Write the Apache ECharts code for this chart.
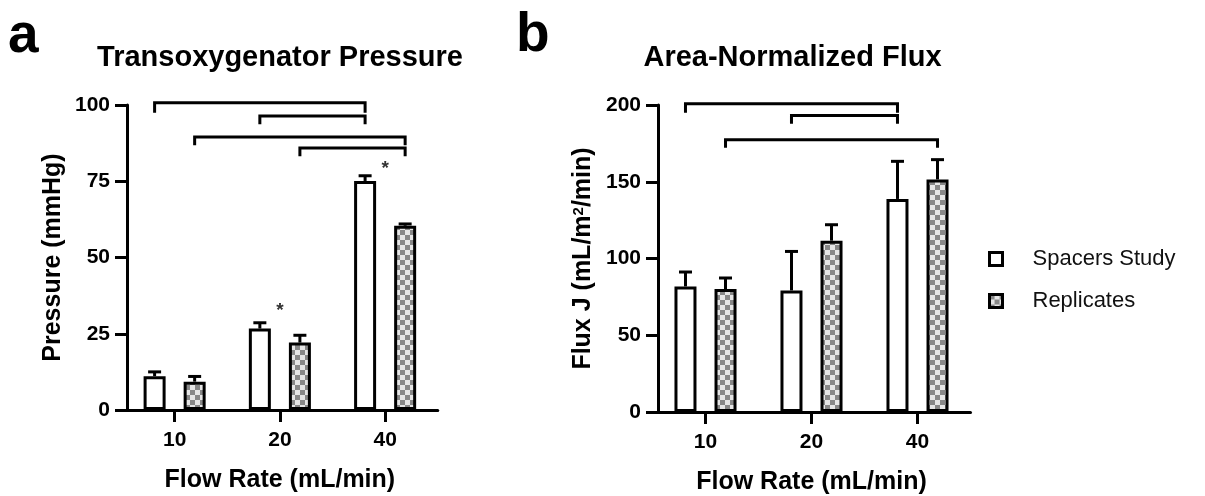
<!DOCTYPE html>
<html>
<head>
<meta charset="utf-8">
<script src="https://cdn.jsdelivr.net/npm/echarts@6/dist/echarts.min.js"></script>
<style>
  html, body { margin: 0; padding: 0; background: #fff; }
  #chart { width: 1205px; height: 496px; }
</style>
</head>
<body>
<div id="chart"></div>
<script>
// ---- data ----
const flowRates = ['10', '20', '40'];
const seriesNames = ['Spacers Study', 'Replicates'];

// (a) transoxygenator pressure, mmHg: mean and upper error
const pressureSpacers = [11.1, 26.7, 75.1];
const pressureSpacersErr = [1.4, 1.9, 1.7];
const pressureReplicates = [9.3, 22.1, 60.4];
const pressureReplicatesErr = [1.7, 2.4, 0.6];

// (b) area-normalized flux, mL/m^2/min: mean and upper error
const fluxSpacers = [81.8, 79.2, 138.8];
const fluxSpacersErr = [9.4, 25.4, 24.5];
const fluxReplicates = [80.1, 111.6, 151.5];
const fluxReplicatesErr = [7.2, 10.4, 12.9];

// significance brackets: [fromFlow, fromSeries, toFlow, toSeries, barTop, legEnd]
const pressureBrackets = [
  [0, 0, 2, 0, 100.7, 97.5],
  [1, 0, 2, 0, 96.4, 93.7],
  [0, 1, 2, 1, 89.5, 86.8],
  [1, 1, 2, 1, 85.9, 83.2]
];
const fluxBrackets = [
  [0, 0, 2, 0, 200.8, 195.0],
  [1, 0, 2, 0, 193.2, 187.8],
  [0, 1, 2, 1, 177.4, 172.2]
];
// asterisks: [flowIndex, height]
const pressureStars = [[1, 32.4], [2, 79.0]];

const pressureScale = { min: 0, max: 100, interval: 25 };
const fluxScale = { min: 0, max: 200, interval: 50 };

// ---- styling helpers ----
const FONT = 'Liberation Sans, Arial, Helvetica, sans-serif';
const BAR_W = 22;
const BAR_GAP = 0.82;
const HALF_SEP = (BAR_W + BAR_W * BAR_GAP) / 2;   // category centre -> bar centre
const barOffset = s => (s === 0 ? -HALF_SEP : HALF_SEP);

// checkerboard fill for the Replicates bars
const tile = document.createElement('canvas');
tile.width = tile.height = 10;
const tctx = tile.getContext('2d');
tctx.fillStyle = '#e6e6e6';
tctx.fillRect(0, 0, 10, 10);
tctx.fillStyle = '#888888';
tctx.fillRect(0, 0, 5, 5);
tctx.fillRect(5, 5, 5, 5);
const checker = { image: tile, repeat: 'repeat' };
const fills = ['#ffffff', checker];

function barSeries(g, s, values) {
  return {
    type: 'bar', name: seriesNames[s], xAxisIndex: g, yAxisIndex: g,
    data: values, barWidth: BAR_W, barGap: Math.round(BAR_GAP * 100) + '%',
    itemStyle: { color: fills[s], borderColor: '#000', borderWidth: 3 },
    silent: true, z: 2
  };
}

function errorSeries(g, s, values, errs) {
  return {
    type: 'custom', xAxisIndex: g, yAxisIndex: g, silent: true, z: 3,
    data: values.map((v, i) => [i, v, v + errs[i]]),
    renderItem(params, api) {
      const base = api.coord([api.value(0), api.value(1)]);
      const top = api.coord([api.value(0), api.value(2)]);
      const x = base[0] + barOffset(s);
      const st = { stroke: '#000', lineWidth: 3 };
      return {
        type: 'group', children: [
          { type: 'line', shape: { x1: x, y1: base[1], x2: x, y2: top[1] }, style: st },
          { type: 'line', shape: { x1: x - 6.5, y1: top[1], x2: x + 6.5, y2: top[1] }, style: st }
        ]
      };
    }
  };
}

function bracketSeries(g, brackets) {
  return {
    type: 'custom', xAxisIndex: g, yAxisIndex: g, silent: true, z: 3, clip: false,
    data: brackets,
    renderItem(params, api) {
      const a = api.coord([api.value(0), api.value(4)]);
      const b = api.coord([api.value(2), api.value(4)]);
      const leg = api.coord([api.value(0), api.value(5)]);
      const x1 = a[0] + barOffset(api.value(1));
      const x2 = b[0] + barOffset(api.value(3));
      return {
        type: 'polyline',
        shape: { points: [[x1, leg[1]], [x1, a[1]], [x2, a[1]], [x2, leg[1]]] },
        style: { stroke: '#000', lineWidth: 3, fill: null, lineJoin: 'miter' }
      };
    }
  };
}

function starSeries(g, stars) {
  return {
    type: 'custom', xAxisIndex: g, yAxisIndex: g, silent: true, z: 3, clip: false,
    data: stars,
    renderItem(params, api) {
      const p = api.coord([api.value(0), api.value(1)]);
      return {
        type: 'text', x: p[0], y: p[1],
        style: { text: '*', fill: '#333', font: 'bold 19px ' + FONT, align: 'center', verticalAlign: 'middle' }
      };
    }
  };
}

function xAxis(g) {
  return {
    type: 'category', gridIndex: g, data: flowRates,
    axisLine: { show: true, lineStyle: { color: '#000', width: 3 } },
    axisTick: { show: true, alignWithLabel: true, length: 12, lineStyle: { color: '#000', width: 3 } },
    axisLabel: { margin: 20, fontSize: 21, fontWeight: 'bold', color: '#000', fontFamily: FONT },
    splitLine: { show: false },
    name: 'Flow Rate (mL/min)', nameLocation: 'middle', nameGap: 58,
    nameTextStyle: { fontSize: 25, fontWeight: 'bold', color: '#000', fontFamily: FONT }
  };
}

function yAxis(g, scale, name, offset, gap, rich) {
  return {
    type: 'value', gridIndex: g, min: scale.min, max: scale.max, interval: scale.interval,
    offset: offset,
    axisLine: { show: true, lineStyle: { color: '#000', width: 3 } },
    axisTick: { show: true, length: 12, lineStyle: { color: '#000', width: 3 } },
    axisLabel: { margin: 17, fontSize: 21, fontWeight: 'bold', color: '#000', fontFamily: FONT },
    splitLine: { show: false },
    name: name, nameLocation: 'middle', nameGap: gap,
    nameTextStyle: Object.assign({ fontSize: 25, fontWeight: 'bold', color: '#000', fontFamily: FONT }, rich ? { rich } : {})
  };
}

const chart = echarts.init(document.getElementById('chart'), null, { renderer: 'canvas' });

chart.setOption({
  animation: false,
  backgroundColor: '#fff',
  grid: [
    { left: 122, top: 105, width: 315.75, height: 305, outerBoundsMode: 'none' },
    { left: 652.5, top: 105, width: 318, height: 307, outerBoundsMode: 'none' }
  ],
  xAxis: [xAxis(0), xAxis(1)],
  yAxis: [
    yAxis(0, pressureScale, 'Pressure (mmHg)', -5, 61),
    yAxis(1, fluxScale, 'Flux J (mL/m{sup|2}/min)', -5.5, 62, {
      sup: { fontSize: 15, fontWeight: 'bold', color: '#000', fontFamily: FONT, verticalAlign: 'top' }
    })
  ],
  legend: {
    orient: 'vertical', left: 988, top: 248, padding: 0,
    itemWidth: 13, itemHeight: 13, itemGap: 20, icon: 'rect',
    data: seriesNames, selectedMode: false,
    itemStyle: { borderColor: '#000', borderWidth: 3 },
    textStyle: { fontSize: 22, color: '#111', fontFamily: FONT, lineHeight: 22, padding: [0, 0, 0, 25] }
  },
  graphic: [
    { type: 'text', x: 8, y: 37, style: { text: 'a', font: 'bold 55px ' + FONT, fill: '#000', align: 'left', verticalAlign: 'middle' } },
    { type: 'text', x: 516, y: 36, style: { text: 'b', font: 'bold 55px ' + FONT, fill: '#000', align: 'left', verticalAlign: 'middle' } },
    { type: 'text', x: 280, y: 58, style: { text: 'Transoxygenator Pressure', font: 'bold 29px ' + FONT, fill: '#000', align: 'center', verticalAlign: 'middle' } },
    { type: 'text', x: 792.5, y: 58, style: { text: 'Area-Normalized Flux', font: 'bold 29px ' + FONT, fill: '#000', align: 'center', verticalAlign: 'middle' } }
  ],
  series: [
    barSeries(0, 0, pressureSpacers),
    barSeries(0, 1, pressureReplicates),
    errorSeries(0, 0, pressureSpacers, pressureSpacersErr),
    errorSeries(0, 1, pressureReplicates, pressureReplicatesErr),
    bracketSeries(0, pressureBrackets),
    starSeries(0, pressureStars),
    barSeries(1, 0, fluxSpacers),
    barSeries(1, 1, fluxReplicates),
    errorSeries(1, 0, fluxSpacers, fluxSpacersErr),
    errorSeries(1, 1, fluxReplicates, fluxReplicatesErr),
    bracketSeries(1, fluxBrackets)
  ]
});
</script>
</body>
</html>
